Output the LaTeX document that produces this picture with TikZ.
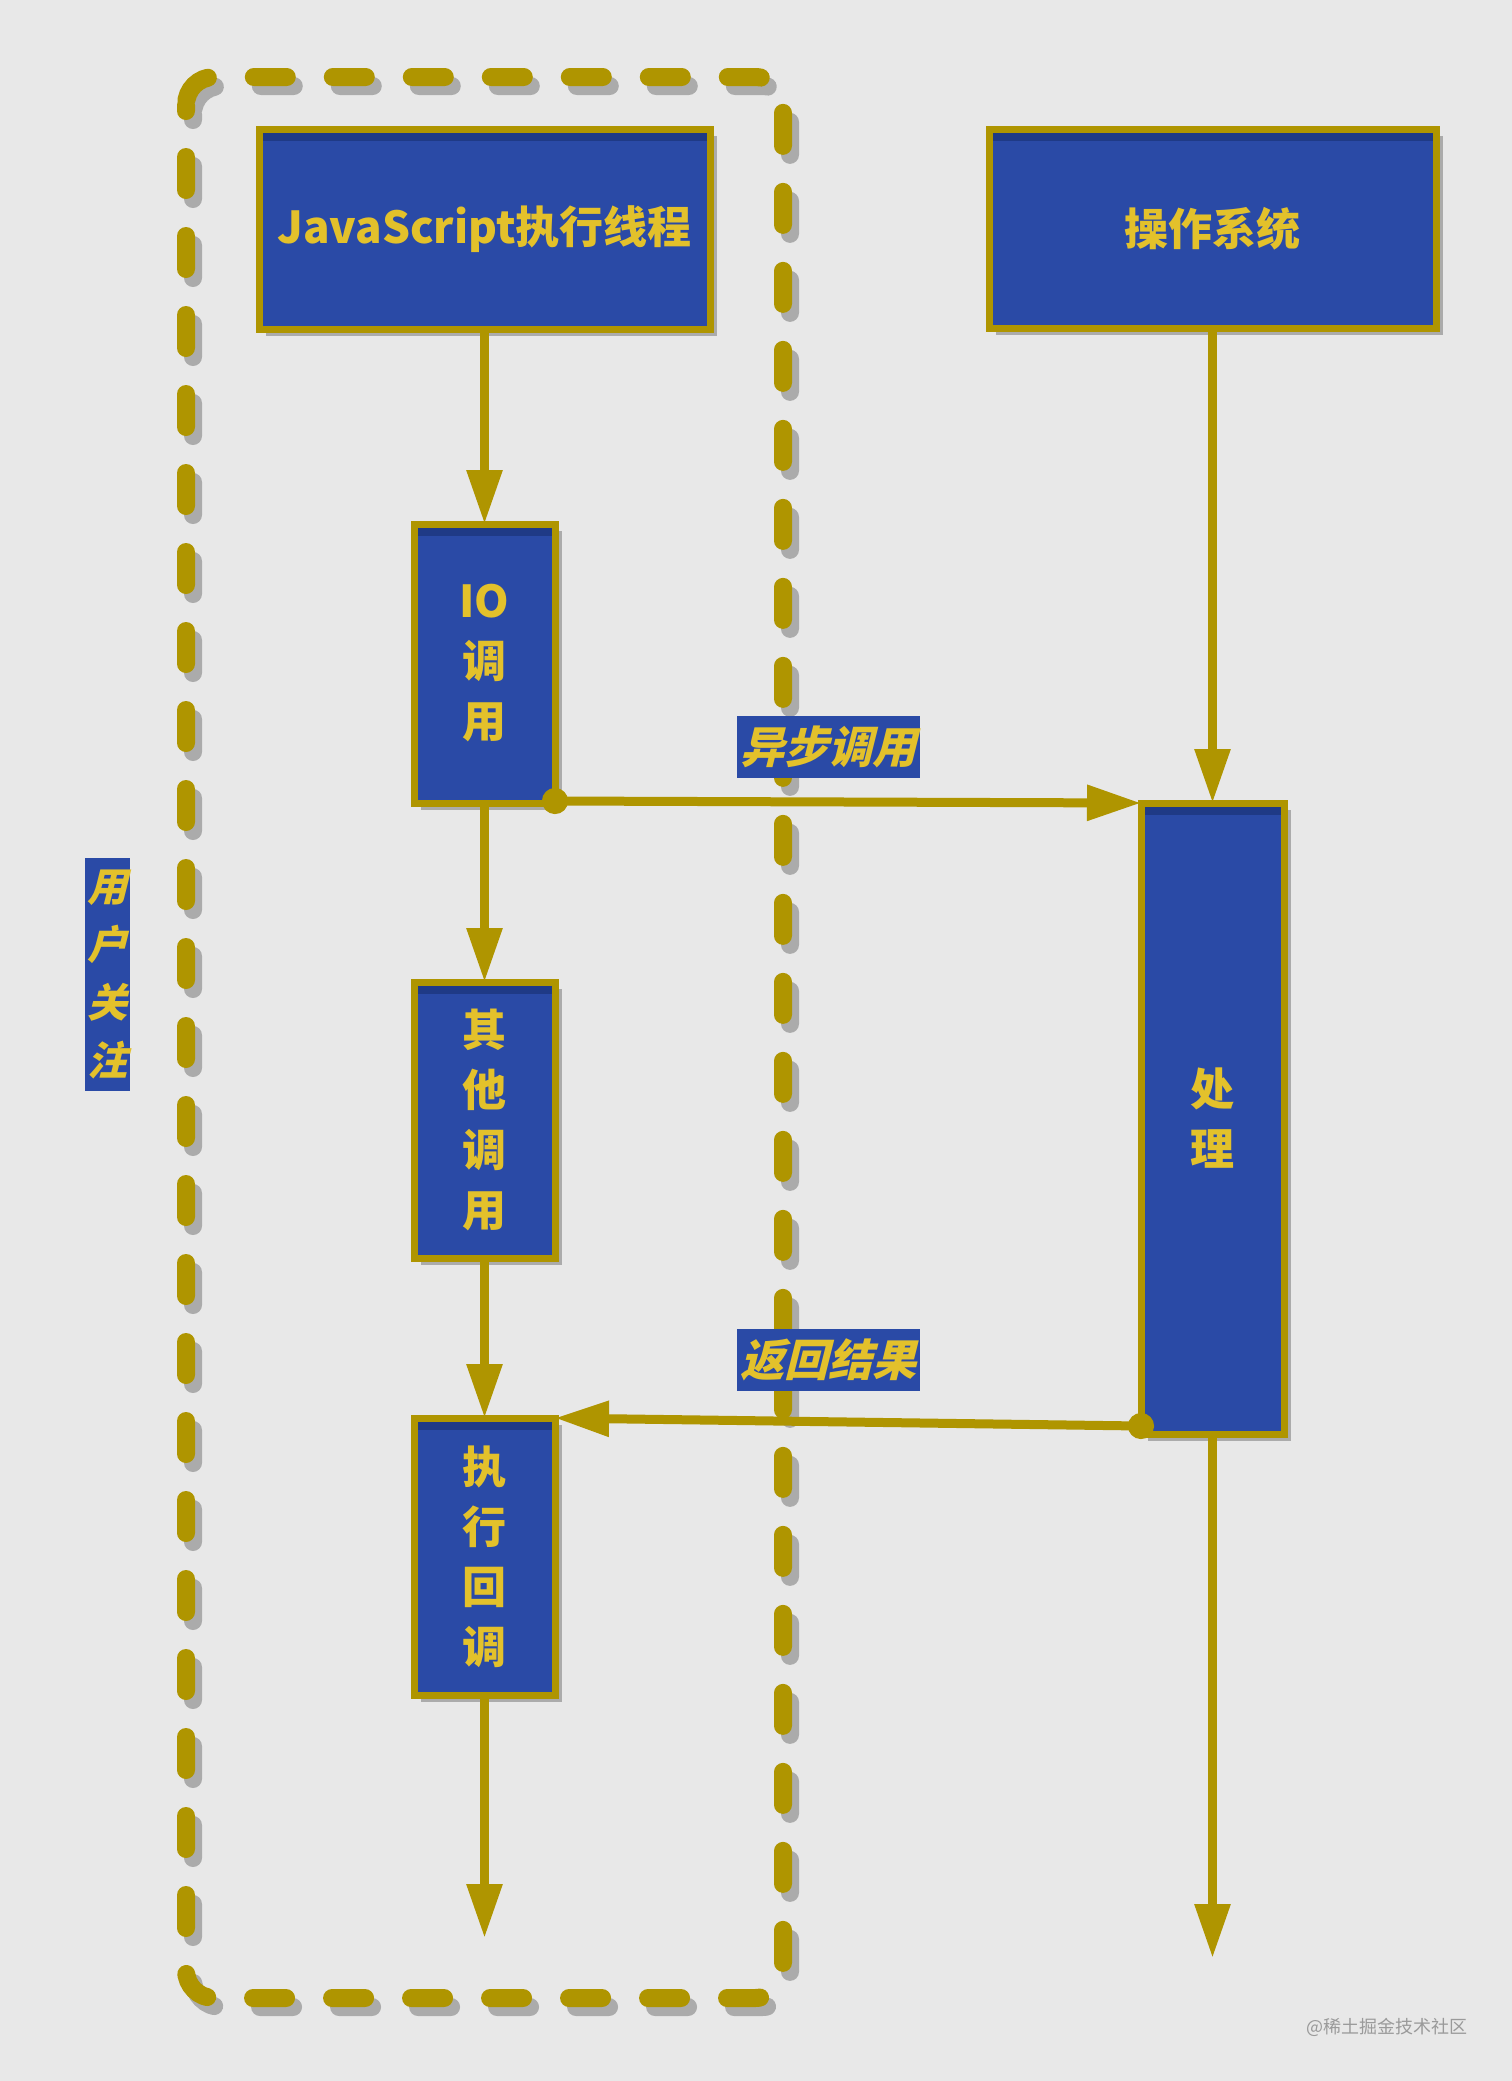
\documentclass[tikz,border=0pt]{standalone}
\usepackage{fontspec}
\setmainfont{Noto Sans CJK SC}
\newfontfamily\cjkit{Noto Sans CJK SC}[FakeSlant=0.25]
\usetikzlibrary{arrows.meta,shadows}

\definecolor{bggray}{HTML}{E8E8E8}
\definecolor{boxblue}{HTML}{2A4AA6}
\definecolor{boxdark}{HTML}{1F3A86}
\definecolor{gold}{HTML}{AF9500}
\definecolor{textyellow}{HTML}{E3C12B}
\definecolor{shadowgray}{HTML}{ABABAB}
\definecolor{wmgray}{HTML}{9A9A9A}

\tikzset{
  callbox/.style={draw=gold, line width=7pt, fill=boxblue, text=textyellow,
    align=center, inner sep=0pt, outer sep=0pt, font=\bfseries\fontsize{44}{60}\selectfont,
    drop shadow={shadow xshift=7pt, shadow yshift=-7pt, fill=shadowgray, opacity=1},
    path picture={\fill[boxdark] (path picture bounding box.north west)
      rectangle ([yshift=-12pt]path picture bounding box.north east);}},
  tagbox/.style={fill=boxblue, text=textyellow, inner sep=0pt,
    font=\cjkit\bfseries\fontsize{44}{58}\selectfont},
  flow/.style={draw=gold, line width=9pt, -{Triangle[length=54pt,width=34pt]}},
  callflow/.style={flow, {Circle[length=26pt]}-{Triangle[length=54pt,width=34pt]}, shorten <=-13pt},
  dashbox/.style={line width=18pt, line cap=round, dash pattern=on 33pt off 46pt,
    dash phase=27pt, rounded corners=28pt},
}

\begin{document}
\begin{tikzpicture}[x=1pt,y=-1pt]
    %page
    \fill[bggray] (0,0) rectangle (1512,2081);
    \useasboundingbox (0,0) rectangle (1512,2081);

    %user area (dashed)
    \draw[dashbox, shadowgray] (193,86) rectangle (790,2007);
    \draw[dashbox, gold] (186,77) rectangle (783,1998);

    %boxes
    \node[callbox, minimum width=451pt, minimum height=200pt] (js) at (484.5,229) {JavaScript执行线程};
    \node[callbox, minimum width=447pt, minimum height=199pt] (os) at (1212.5,228.5) {操作系统};
    \node[callbox, minimum width=141pt, minimum height=279pt] (io) at (484.5,663.5) {IO\\调\\用};
    \node[callbox, minimum width=141pt, minimum height=276pt] (other) at (484.5,1120) {其\\他\\调\\用};
    \node[callbox, minimum width=141pt, minimum height=277pt] (cb) at (484.5,1556.5) {执\\行\\回\\调};
    \node[callbox, minimum width=143pt, minimum height=631pt] (proc) at (1212.5,1118.5) {处\\理};

    %ends of time lines
    \coordinate (jsend) at (484.5,1938);
    \coordinate (osend) at (1212.5,1958);

    %arrows
    \draw[flow] (js.south) -- (io.north);
    \draw[flow] (io.south) -- (other.north);
    \draw[flow] (other.south) -- (cb.north);
    \draw[flow] (cb.south) -- (jsend);
    \draw[flow] (os.south) -- (proc.north);
    \draw[flow] (proc.south) -- (osend);
    \draw[callflow] ([yshift=2pt]io.south east) -- (proc.north west);
    \draw[callflow] ([yshift=8pt]proc.south west) -- (cb.north east);

    %labels
    \node[tagbox, minimum width=183pt, minimum height=62pt] (async) at (828,747) {异步调用};
    \node[tagbox, minimum width=183pt, minimum height=62pt] (result) at (828,1360) {返回结果};
    \node[tagbox, text width=45pt, align=center, minimum height=233pt,
      font=\cjkit\bfseries\fontsize{40}{58}\selectfont] (user) at (107.5,974) {用\\户\\关\\注};
    \node[text=wmgray, font=\fontsize{18}{20}\selectfont] (wm) at (1387,2027) {@稀土掘金技术社区};
\end{tikzpicture}
\end{document}
